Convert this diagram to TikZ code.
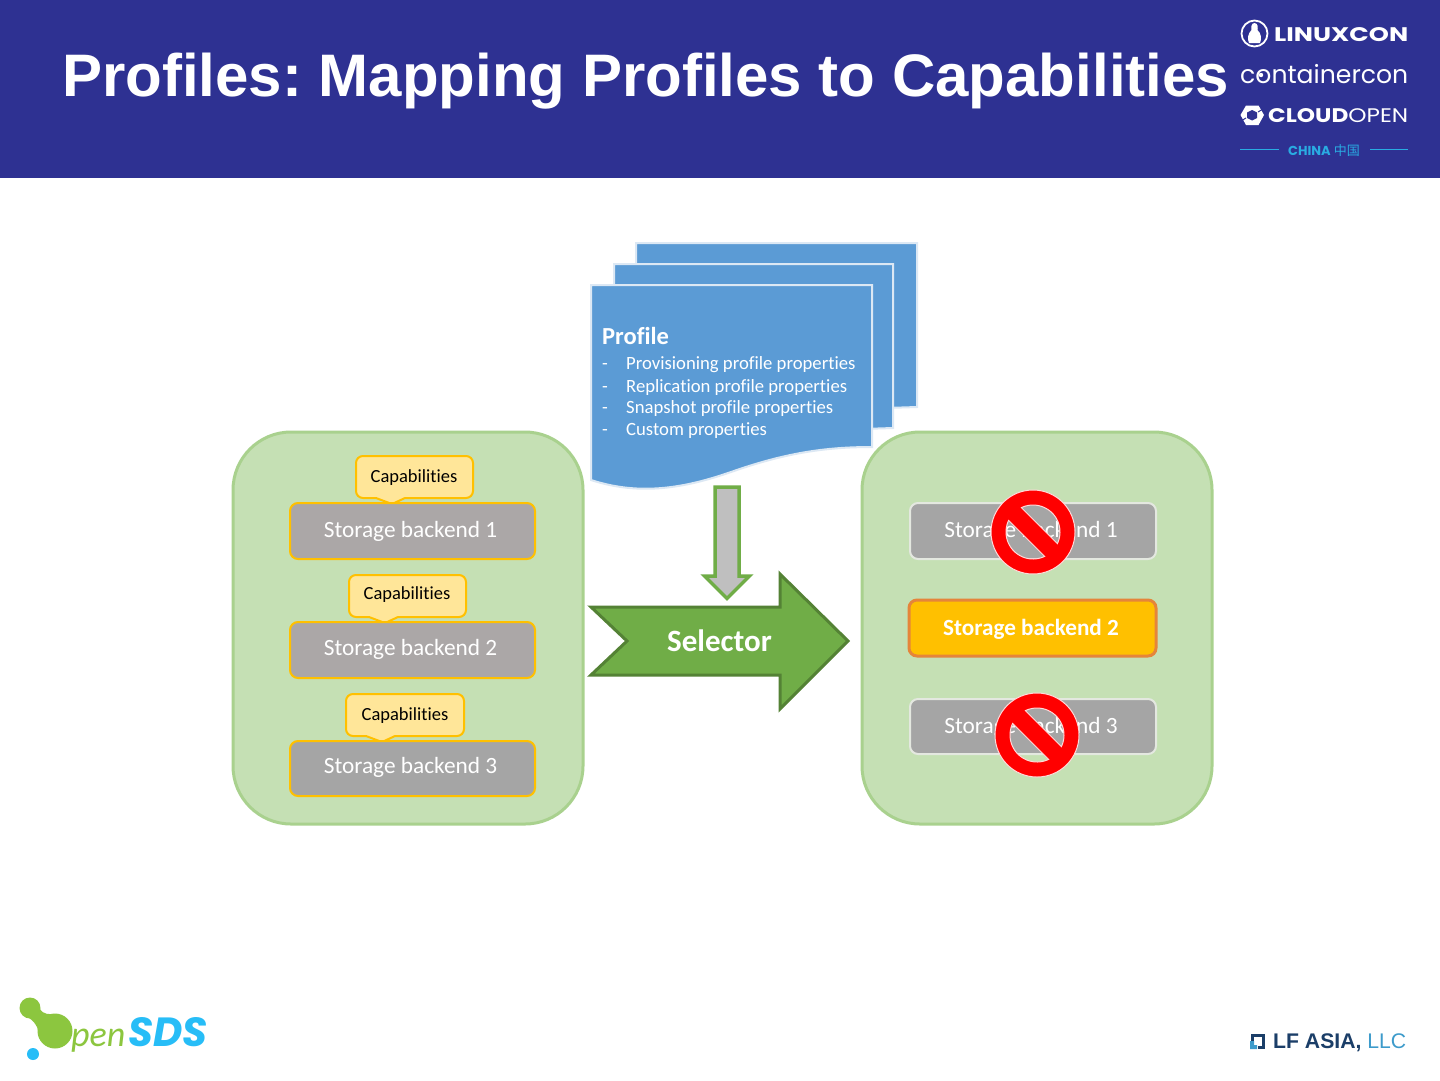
\documentclass[tikz,border=0pt]{standalone}
\usepackage{graphicx}
\usepackage{fontspec}
\setmainfont{Carlito}[Ligatures=NoCommon]
\newfontfamily\arialf{Liberation Sans}
\newfontfamily\popf{Poppins}
\newfontfamily\latof{Lato}
\newfontfamily\cjkf{Noto Sans CJK SC}
\definecolor{hdr}{HTML}{2E3192}
\definecolor{pfill}{HTML}{C5E0B4}
\definecolor{pline}{HTML}{A9D18E}
\definecolor{docblue}{HTML}{5B9BD5}
\definecolor{docline}{HTML}{DCE8F4}
\definecolor{gold}{HTML}{FFC000}
\definecolor{callfill}{HTML}{FFE699}
\definecolor{sbA}{HTML}{ABA7A7}
\definecolor{sbB}{HTML}{A5A5A5}
\definecolor{sbline}{HTML}{E4E8E0}
\definecolor{orgline}{HTML}{E5853A}
\definecolor{selfill}{HTML}{70AD47}
\definecolor{selline}{HTML}{548235}
\definecolor{cyanl}{HTML}{29ABE2}
\definecolor{sdsblue}{HTML}{27BDF7}
\definecolor{sdsgreen}{HTML}{8CC63F}
\definecolor{navy}{HTML}{1B3E68}
\definecolor{llcblue}{HTML}{3D9BCB}
\tikzset{
  panel/.style={draw=pline,fill=pfill,line width=3pt,rounded corners=58pt},
  sbox/.style={rounded corners=8pt,line width=2pt,inner sep=0pt,minimum width=245pt},
  slabel/.style={inner sep=0pt,text=white,font=\fontsize{23.3}{25}\selectfont},
  capbox/.style={draw=gold,fill=callfill,line width=2pt,rounded corners=7pt},
  captext/.style={font=\fontsize{18.5}{20}\selectfont,text=black,inner sep=0pt},
  docshape/.style={draw=docline,fill=docblue,line width=2pt},
  doctext/.style={font=\fontsize{18.7}{20}\selectfont,text=white,inner sep=0pt,anchor=base west},
  logotext/.style={text=white,inner sep=0pt},
  nosign/.style={fill=red,draw=white!85!red,line width=1pt,even odd rule},
}
\newcommand{\nosym}[2]{%
  \fill[nosign,shift={(#1,#2)}] (0,0) circle (42)
    plot[domain=64.5:205.5,samples=30] ({27*cos(\x)},{27*sin(\x)}) -- cycle
    plot[domain=-115.5:25.5,samples=30] ({27*cos(\x)},{27*sin(\x)}) -- cycle;
}
% callout: left, top, right, bottom, tail x (left of tip), tip x, tail x (right of tip)
\newcommand{\callout}[7]{%
  \draw[capbox] (#6,#2) -- (#3,#2) -- (#3,#4) [sharp corners] -- (#7,#4) -- (#6,#4+6) -- (#5,#4)
    [rounded corners=7pt] -- (#1,#4) -- (#1,#2) -- cycle;
}
\begin{document}
\begin{tikzpicture}[x=1pt,y=-1pt]
\useasboundingbox (0,0) rectangle (1440,1080);
\fill[white] (0,0) rectangle (1440,1080);
\fill[hdr] (0,0) rectangle (1440,178);
\node[anchor=base west,inner sep=0pt,text=white] (title) at (62,96)
  {\arialf\bfseries\frenchspacing\fontsize{60}{66}\selectfont Profiles: Mapping Profiles to Capabilities};

% conference logos
\draw[white,line width=1.8pt] (1254.5,33.5) circle (13);
\fill[white] (1254.5,23) .. controls (1251,23) and (1251,28) .. (1251.5,30)
  .. controls (1248,33) and (1247,39) .. (1249,43) -- (1260,43)
  .. controls (1262,39) and (1261,33) .. (1257.5,30)
  .. controls (1258,28) and (1258,23) .. (1254.5,23) -- cycle;
\node[logotext,anchor=base west] (linuxcon) at (1274,41)
  {\resizebox{134pt}{14pt}{\popf\bfseries LINUXCON}};
\node[logotext,anchor=base west] (containercon) at (1240,83)
  {\resizebox{168pt}{!}{\popf containercon}};
\fill[white] (1261,75) circle (2.2);
\fill[white] (1252,105.5) -- (1258.5,105.5) -- (1264,115) -- (1258.5,125) -- (1246,125) -- (1240.5,115) -- (1246,105.5) -- cycle;
\fill[hdr] (1252,110) -- (1257,112.5) -- (1257,118) -- (1252,120.5) -- (1247,118) -- (1247,112.5) -- cycle;
\draw[hdr,line width=1pt] (1258,112) -- (1263,109) (1246,118) -- (1241,121);
\node[logotext,anchor=base west] (cloudopen) at (1268,122)
  {\resizebox{140pt}{14pt}{\popf{\bfseries CLOUD}OPEN}};
\node[anchor=base west,inner sep=0pt,text=cyanl] (china) at (1288,155)
  {\fontsize{13}{14}\selectfont{\popf\bfseries CHINA} {\cjkf 中国}};
\coordinate (cl1) at (1240,149.5);\coordinate (cl2) at (1279,149.5);
\coordinate (cr1) at (1370,149.5);\coordinate (cr2) at (1408,149.5);
\draw[cyanl,line width=1pt] (cl1) -- (cl2) (cr1) -- (cr2);

% panels
\draw[panel] (233,432) rectangle (583,824);
\draw[panel] (862,432) rectangle (1212,824);

% documents
\draw[docshape] (636,243) -- (917,243) -- (917,407) -- (636,416) -- cycle;
\draw[docshape] (614,264) -- (893,264) -- (893,428) -- (614,437) -- cycle;
\draw[docshape] (591,285) -- (872,285) -- (872,447)
  .. controls (825,447) and (785,453) .. (731,472)
  .. controls (685,488) and (640,496) .. (591,480) -- cycle;
\node[anchor=base west,inner sep=0pt,text=white,font=\bfseries\fontsize{24.5}{26}\selectfont] (ptitle) at (602,344) {Profile};
\node[doctext] (d1) at (602,369) {-}; \node[doctext] (l1) at (626,369) {Provisioning profile properties};
\node[doctext] (d2) at (602,392) {-}; \node[doctext] (l2) at (626,392) {Replication profile properties};
\node[doctext] (d3) at (602,413) {-}; \node[doctext] (l3) at (626,413) {Snapshot profile properties};
\node[doctext] (d4) at (602,435) {-}; \node[doctext] (l4) at (626,435) {Custom properties};

% down arrow
\draw[draw=selfill,fill=black!25,line width=3.5pt,line join=miter]
  (715,487) -- (739,487) -- (739,576) -- (749.5,576) -- (727,598.5) -- (704.5,576) -- (715,576) -- cycle;

% selector arrow
\draw[draw=selline,fill=selfill,line width=3pt,line join=miter]
  (591,607) -- (780,607) -- (780,574) -- (848,641) -- (780,709) -- (780,675) -- (591,675) -- (627,641) -- cycle;
\node[inner sep=0pt,text=white,font=\bfseries\fontsize{31}{33}\selectfont] (selector) at (719.5,641) {Selector};

% callouts + left boxes
\callout{356}{456}{473}{498}{376}{392}{405}
\node[captext] (c1) at (414,478) {Capabilities};
\node[sbox,draw=gold,fill=sbA,minimum height=56pt] (a1) at (412.5,531) {};
\node[slabel] (a1t) at (410.5,531) {Storage backend 1};

\callout{349}{575}{466}{617}{369}{385}{398}
\node[captext] (c2) at (407,595) {Capabilities};
\node[sbox,draw=gold,fill=sbA,minimum height=56pt] (a2) at (412.5,650) {};
\node[slabel] (a2t) at (410.5,649) {Storage backend 2};

\callout{346}{694}{464}{736}{366}{382}{395}
\node[captext] (c3) at (405,716) {Capabilities};
\node[sbox,draw=gold,fill=sbB,minimum height=55pt] (a3) at (412.5,768.5) {};
\node[slabel] (a3t) at (410.5,767) {Storage backend 3};

% right boxes
\node[sbox,draw=sbline,fill=sbB,minimum width=246pt,minimum height=56pt] (b1) at (1033,531) {};
\node[slabel] (b1t) at (1031,531) {Storage backend 1};
\node[sbox,draw=orgline,fill=gold,line width=3pt,minimum width=247pt,minimum height=56pt] (b2) at (1032.5,628) {};
\node[slabel,font=\bfseries\fontsize{23.2}{25}\selectfont] (b2t) at (1031,629) {Storage backend 2};
\node[sbox,draw=sbline,fill=sbB,minimum width=246pt,minimum height=55pt] (b3) at (1033,726.5) {};
\node[slabel] (b3t) at (1031,727) {Storage backend 3};
\nosym{1033}{532}
\nosym{1037}{735}

% openSDS logo
\fill[sdsgreen] (30,1008) circle (10.5);
\fill[sdsgreen] (55,1031) circle (17.5);
\fill[sdsgreen] (26,1016) -- (37,1003) .. controls (40,1012) and (45,1015) .. (52,1014) -- (39,1037) .. controls (39,1028) and (35,1021) .. (26,1016) -- cycle;
\fill[sdsblue] (33,1054) circle (6);
\node[anchor=base west,inner sep=0pt,text=sdsgreen,font=\itshape\fontsize{36}{40}\selectfont] (pen) at (71,1046) {pen};
\node[anchor=base west,inner sep=0pt,text=sdsblue] (sds) at (128,1046)
  {\resizebox{79pt}{29pt}{\popf\bfseries\itshape SDS}};

% LF logo
\draw[navy,line width=3pt] (1252,1041) -- (1252,1035.5) -- (1263.5,1035.5) -- (1263.5,1047.5) -- (1258,1047.5);
\fill[llcblue] (1250,1041) -- (1254,1041) -- (1254,1045) -- (1257,1045) -- (1257,1049) -- (1250,1049) -- cycle;
\node[anchor=base west,inner sep=0pt] (lf) at (1273,1048)
  {\resizebox{133pt}{!}{\arialf{\bfseries\color{navy} LF ASIA,} \color{llcblue} LLC}};
\end{tikzpicture}
\end{document}
